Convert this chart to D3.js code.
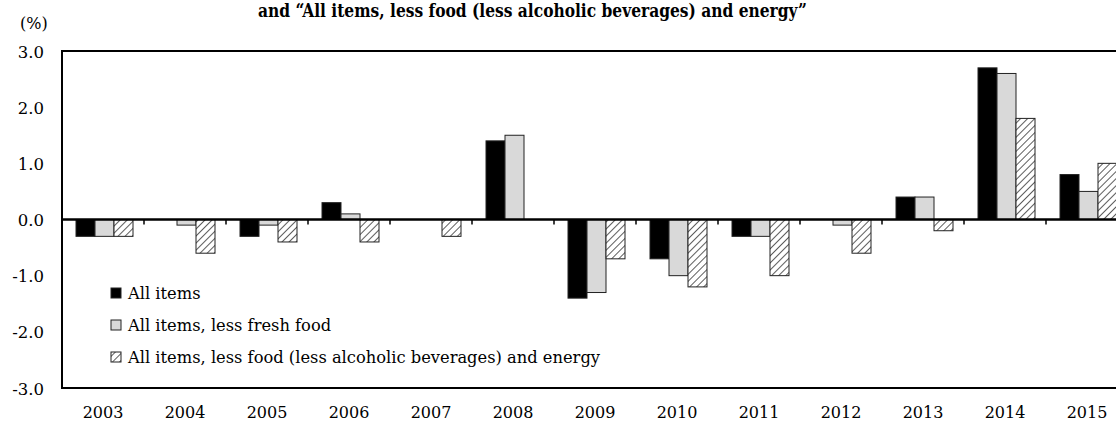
<!DOCTYPE html>
<html><head><meta charset="utf-8">
<script src="https://cdn.jsdelivr.net/npm/d3@7"></script>
<style>
html,body{margin:0;padding:0;background:#fff;}
svg{display:block;}
</style></head>
<body>
<svg id="chart" width="1116" height="421" font-family="'DejaVu Serif', serif"></svg>
<script>
const years = ["2003","2004","2005","2006","2007","2008","2009","2010","2011","2012","2013","2014","2015"];
const seriesNames = ["All items","All items, less fresh food","All items, less food (less alcoholic beverages) and energy"];
const allItems   = [-0.3, 0.0, -0.3, 0.3, 0.0, 1.4, -1.4, -0.7, -0.3, 0.0, 0.4, 2.7, 0.8];
const lessFresh  = [-0.3, -0.1, -0.1, 0.1, 0.0, 1.5, -1.3, -1.0, -0.3, -0.1, 0.4, 2.6, 0.5];
const lessFoodEn = [-0.3, -0.6, -0.4, -0.4, -0.3, 0.0, -0.7, -1.2, -1.0, -0.6, -0.2, 1.8, 1.0];
const yTicks = [3, 2, 1, 0, -1, -2, -3];
const titleText = "and \u201CAll items, less food (less alcoholic beverages) and energy\u201D";
const unitText = "(%)";

(function(){
const svg = d3.select("#chart");
const pLeft = 62, pRight = 1128, pTop = 51, pBottom = 388;

const x = d3.scaleBand().domain(years).range([pLeft, pRight]);
const xi = d3.scaleBand().domain([0,1,2]).range([14, 71]);
const y = d3.scaleLinear().domain([-3, 3]).range([pBottom, pTop]);

const defs = svg.append("defs");
const pat = defs.append("pattern").attr("id","hatch").attr("patternUnits","userSpaceOnUse")
  .attr("width",5).attr("height",5).attr("patternTransform","rotate(45)");
pat.append("rect").attr("width",5).attr("height",5).attr("fill","#fff");
pat.append("line").attr("x1",0).attr("y1",0).attr("x2",0).attr("y2",5)
  .attr("stroke","#333").attr("stroke-width",1.6);

const fills = ["#000", "#d9d9d9", "url(#hatch)"];
const seriesData = [allItems, lessFresh, lessFoodEn];

svg.append("text").attr("x", 258).attr("y", 17)
  .attr("font-weight","bold").attr("font-size", 18)
  .attr("textLength", 549).attr("lengthAdjust","spacingAndGlyphs")
  .text(titleText);

svg.append("text").attr("x", 20).attr("y", 29).attr("font-size", 16).text(unitText);

svg.append("g").selectAll("text").data(yTicks).join("text")
  .attr("x", 44).attr("y", d => y(d) + 1)
  .attr("text-anchor","end").attr("dominant-baseline","central")
  .attr("font-size", 16.5)
  .text(d => d.toFixed(1));

seriesData.forEach((vals, si) => {
  svg.append("g").selectAll("rect").data(vals.map((v,i)=>({v, yr: years[i]}))).join("rect")
    .attr("x", d => x(d.yr) + xi(si))
    .attr("width", xi.bandwidth())
    .attr("y", d => y(Math.max(0, d.v)))
    .attr("height", d => Math.abs(y(d.v) - y(0)))
    .attr("fill", fills[si])
    .attr("stroke", "#222").attr("stroke-width", 1);
});

svg.append("rect").attr("x", pLeft).attr("y", pTop).attr("width", pRight-pLeft).attr("height", pBottom-pTop)
  .attr("fill","none").attr("stroke","#000").attr("stroke-width",2);

svg.append("line").attr("x1", pLeft).attr("x2", pRight).attr("y1", y(0)).attr("y2", y(0))
  .attr("stroke","#000").attr("stroke-width",2.5);
svg.append("g").selectAll("line").data(years.slice(1)).join("line")
  .attr("x1", d => x(d)).attr("x2", d => x(d))
  .attr("y1", y(0)).attr("y2", y(0) + 5)
  .attr("stroke","#000").attr("stroke-width",1.5);

svg.append("g").selectAll("text").data(years).join("text")
  .attr("x", d => x(d) + x.bandwidth()/2).attr("y", 418)
  .attr("text-anchor","middle").attr("font-size", 16)
  .text(d => d);

const lg = svg.append("g");
seriesNames.forEach((name, i) => {
  const by = 299 + i*32;
  lg.append("rect").attr("x", 111).attr("y", by - 11).attr("width", 10).attr("height", 10)
    .attr("fill", fills[i]).attr("stroke","#222").attr("stroke-width",1);
  lg.append("text").attr("x", 128).attr("y", by).attr("font-size", 16.3).text(name);
});
})();
</script>
</body></html>
